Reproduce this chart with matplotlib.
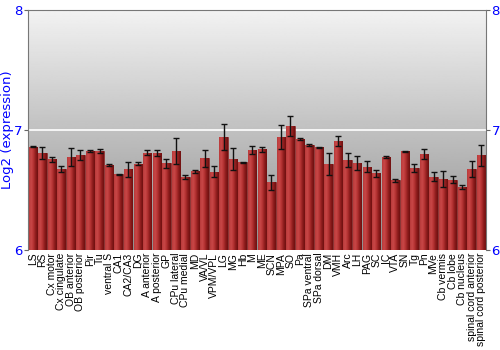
import numpy as np
import matplotlib
matplotlib.use("Agg")
import matplotlib.pyplot as plt
from matplotlib.colors import LinearSegmentedColormap

regions = ["LS", "RS", "Cx motor", "Cx cingulate", "OB anterior", "OB posterior",
           "Pir", "Tu", "ventral S", "CA1", "CA2/CA3", "DG", "A anterior",
           "A posterior", "GP", "CPu lateral", "CPu medial", "MD", "VA/VL",
           "VPM/VPL", "LG", "MG", "Hb", "M", "ME", "SCN", "MPA", "SO", "Pa",
           "SPa ventral", "SPa dorsal", "DM", "VMH", "Arc", "LH", "PAG", "SC",
           "IC", "VTA", "SN", "Tg", "Pn", "MVe", "Cb vermis", "Cb lobe",
           "Cb nucleus", "spinal cord anterior", "spinal cord posterior"]
expr = [6.861, 6.81, 6.755, 6.675, 6.772, 6.79, 6.825, 6.825, 6.708, 6.63,
        6.672, 6.72, 6.81, 6.805, 6.722, 6.825, 6.61, 6.655, 6.764, 6.653,
        6.942, 6.758, 6.73, 6.833, 6.839, 6.564, 6.939, 7.03, 6.922, 6.878,
        6.856, 6.717, 6.906, 6.75, 6.725, 6.695, 6.639, 6.775, 6.58, 6.822,
        6.683, 6.8, 6.611, 6.592, 6.586, 6.525, 6.678, 6.789]
err = [0.004, 0.05, 0.02, 0.025, 0.075, 0.04, 0.006, 0.02, 0.008, 0.004,
       0.06, 0.01, 0.02, 0.025, 0.035, 0.11, 0.015, 0.01, 0.07, 0.047,
       0.105, 0.09, 0.005, 0.033, 0.02, 0.06, 0.1, 0.083, 0.008, 0.008,
       0.005, 0.094, 0.04, 0.055, 0.058, 0.047, 0.028, 0.01, 0.015, 0.005,
       0.037, 0.043, 0.039, 0.065, 0.03, 0.02, 0.067, 0.086]

blue = "#0000ff"
fig = plt.figure(figsize=(5, 3.5), dpi=100)
ax = fig.add_axes([0.056, 0.2857, 0.916, 0.6857])

n = len(regions)
x = np.arange(n)
ax.set_xlim(-0.5, n - 0.5)
ax.set_ylim(6, 8)

# gray gradient background
bg = np.linspace(0.56, 0.95, 256).reshape(-1, 1)
ax.imshow(bg, cmap="gray", vmin=0, vmax=1, aspect="auto",
          extent=[-0.5, n - 0.5, 6, 8], origin="lower", zorder=0)
ax.axhline(7, color="white", lw=1.2, zorder=1)

# bars with horizontal red gradient
redmap = LinearSegmentedColormap.from_list(
    "bar", ["#b83a3a", "#c94848", "#b53333", "#8c1c1c", "#6e1010"])
grad = np.linspace(0, 1, 64).reshape(1, -1)
w = 0.88
bars = ax.bar(x, np.array(expr) - 6, bottom=6, width=w, color="#a82828",
              edgecolor="#7a1515", lw=0.4, zorder=2)
for b in bars:
    x0, y0 = b.get_x(), b.get_y()
    im = ax.imshow(grad, cmap=redmap, aspect="auto", zorder=2.5,
                   extent=[x0, x0 + b.get_width(), y0, y0 + b.get_height()])
    im.set_clip_path(b)

ax.errorbar(x, expr, yerr=err, fmt="none", ecolor="#111111", elinewidth=1,
            capsize=2, capthick=1, zorder=3)

ax.set_xticks(x)
ax.set_xticklabels(regions, rotation=90, fontsize=7.5, family="Liberation Sans")
ax.tick_params(axis="x", length=0, pad=2)
ax.set_yticks([6, 7, 8])
ax.tick_params(axis="y", colors="#666666", labelcolor=blue, labelsize=9.5,
               length=3, pad=1, right=True, labelright=True)
ax.set_ylabel("Log2 (expression)", color=blue, fontsize=9.5, labelpad=0)

for s in ["top", "left", "right"]:
    ax.spines[s].set_color("#777777")
ax.spines["bottom"].set_visible(False)

fig.savefig("out.png", dpi=100)
